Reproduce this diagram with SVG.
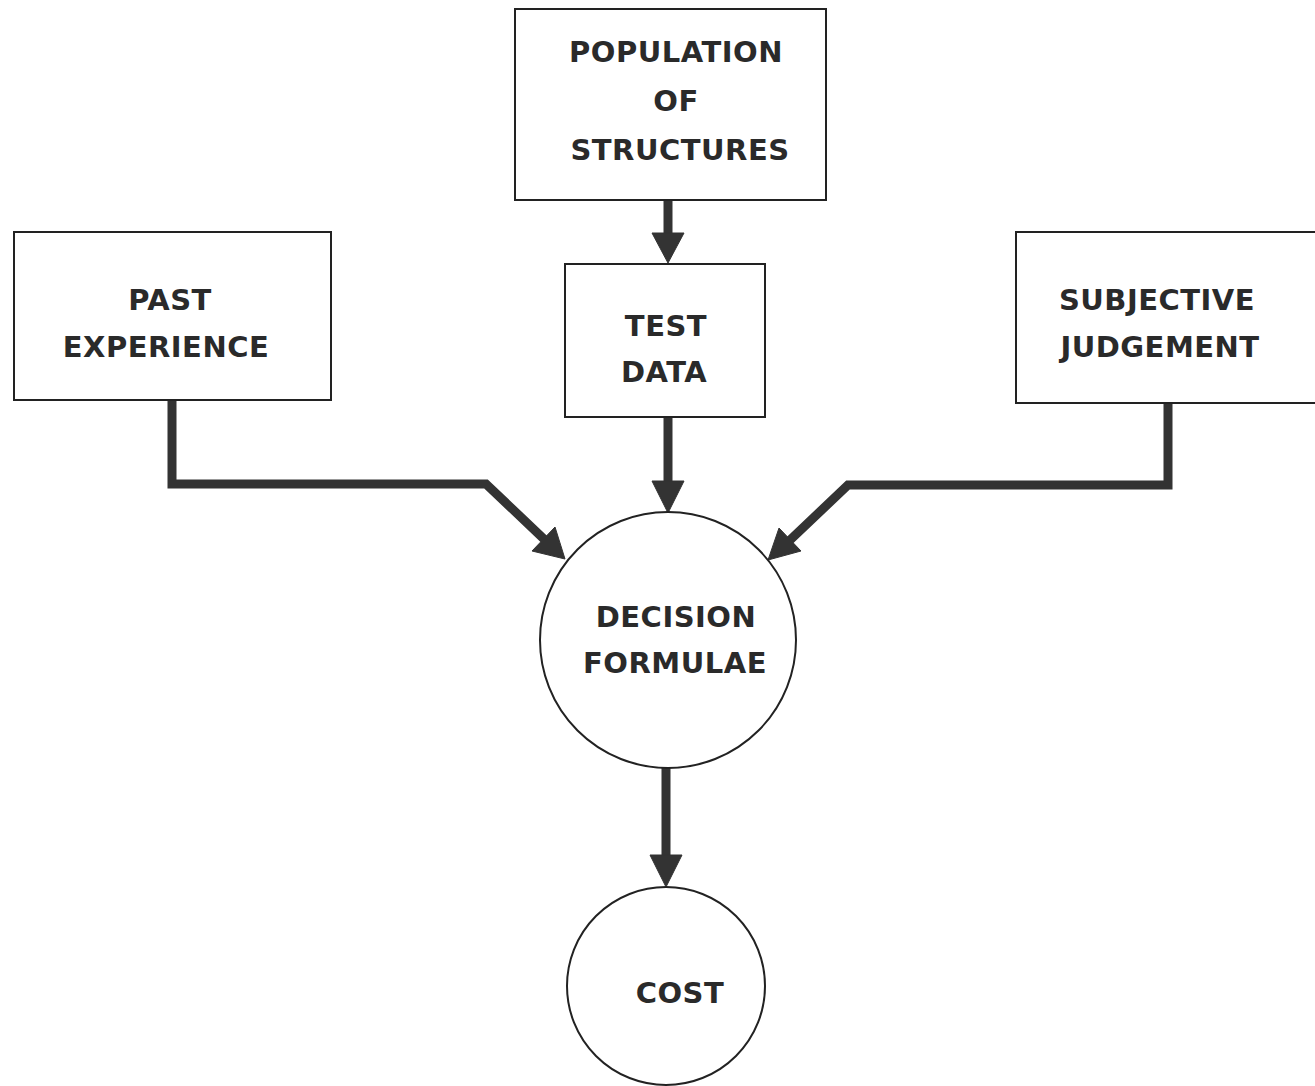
<svg xmlns="http://www.w3.org/2000/svg" width="1315" height="1086" viewBox="0 0 1315 1086">
<style>
.box{fill:#fff;stroke:#222;stroke-width:2}
.lbl{font-family:"DejaVu Sans","Liberation Sans",sans-serif;font-size:29px;font-weight:bold;fill:#2a2a2a;text-anchor:middle;letter-spacing:0.5px}
.con{fill:none;stroke:#333;stroke-width:9;stroke-linejoin:miter}
.head{fill:#333;stroke:#333;stroke-width:1;stroke-linejoin:miter}
</style>
<rect width="1315" height="1086" fill="#fff"/>
<g id="connectors">
<path class="con" d="M668,200 L668,236"/>
<polygon class="head" points="652,233 684,233 668,263"/>
<path class="con" d="M668,417 L668,484"/>
<polygon class="head" points="652,481 684,481 668,513"/>
<path class="con" d="M172,400 L172,484 L486,484 L546,541"/>
<polygon class="head" points="532,551 555,527 565,559"/>
<path class="con" d="M1168,403 L1168,485 L848,485 L788,542"/>
<polygon class="head" points="801,551 779,528 768,560"/>
<path class="con" d="M666,768 L666,858"/>
<polygon class="head" points="650,855 682,855 666,887"/>
</g>
<g id="population">
<rect class="box" x="515" y="9" width="311" height="191"/>
<text class="lbl" x="676" y="62">POPULATION</text>
<text class="lbl" x="676" y="111">OF</text>
<text class="lbl" x="680" y="160">STRUCTURES</text>
</g>
<g id="test-data">
<rect class="box" x="565" y="264" width="200" height="153"/>
<text class="lbl" x="666" y="336">TEST</text>
<text class="lbl" x="664" y="382">DATA</text>
</g>
<g id="past-experience">
<rect class="box" x="14" y="232" width="317" height="168"/>
<text class="lbl" x="170" y="310">PAST</text>
<text class="lbl" x="166" y="357">EXPERIENCE</text>
</g>
<g id="subjective-judgement">
<rect class="box" x="1016" y="232" width="310" height="171"/>
<text class="lbl" x="1157" y="310">SUBJECTIVE</text>
<text class="lbl" x="1160" y="357">JUDGEMENT</text>
</g>
<g id="decision-formulae">
<circle class="box" cx="668" cy="640" r="128"/>
<text class="lbl" x="676" y="627">DECISION</text>
<text class="lbl" x="675" y="673">FORMULAE</text>
</g>
<g id="cost">
<circle class="box" cx="666" cy="986" r="99"/>
<text class="lbl" x="680" y="1003">COST</text>
</g>
</svg>
